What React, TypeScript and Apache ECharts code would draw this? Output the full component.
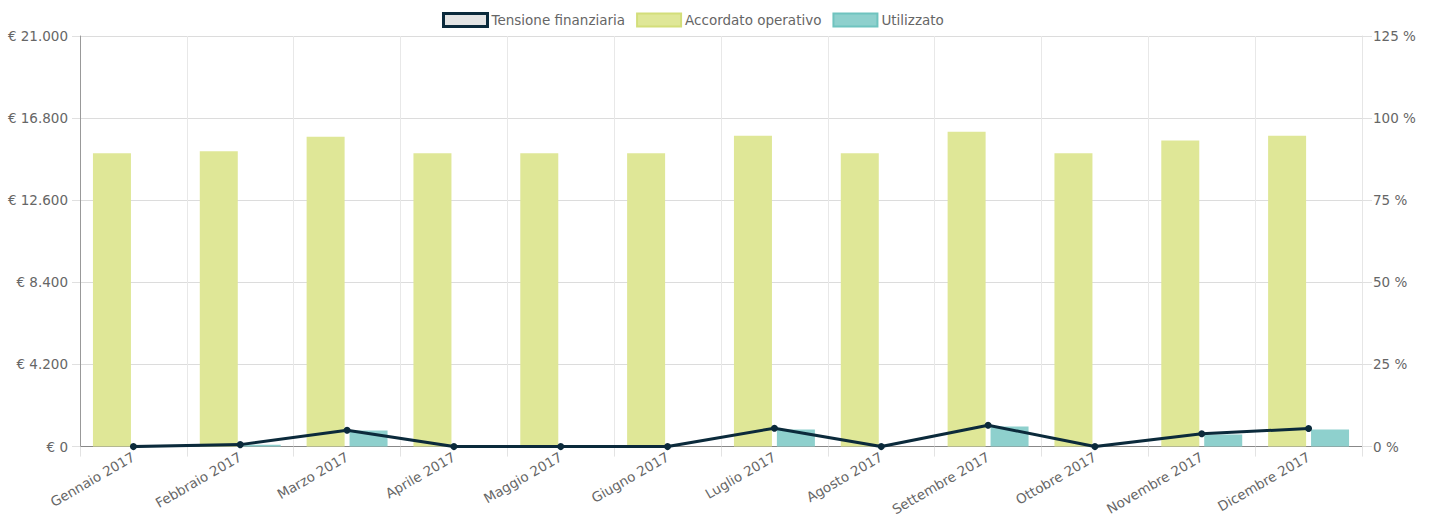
import React, { useEffect, useRef } from "react";
import * as echarts from "echarts";

const categories = [
  "Gennaio 2017", "Febbraio 2017", "Marzo 2017", "Aprile 2017", "Maggio 2017", "Giugno 2017",
  "Luglio 2017", "Agosto 2017", "Settembre 2017", "Ottobre 2017", "Novembre 2017", "Dicembre 2017",
];
const accordato = [15000, 15100, 15850, 15000, 15000, 15000, 15900, 15000, 16100, 15000, 15650, 15900];
const utilizzato = [0, 100, 820, 0, 0, 0, 880, 0, 1030, 0, 620, 880];
const tensione = [0, 0.6, 5.0, 0, 0, 0, 5.6, 0, 6.5, 0, 3.9, 5.5];

const fmtEuro = (v: number) => "€ " + Math.round(v).toString().replace(/\B(?=(\d{3})+(?!\d))/g, ".");

export default function App() {
  const ref = useRef<HTMLDivElement>(null);
  useEffect(() => {
    const chart = echarts.init(ref.current!, null, { renderer: "svg" });
    const font = "DejaVu Sans";
    chart.setOption({
      animation: false,
      textStyle: { fontFamily: font },
      legend: {
        top: 7,
        left: 437,
        itemWidth: 44,
        itemHeight: 13,
        itemGap: 11,
        textStyle: { color: "#666", fontSize: 13.5, fontFamily: font, padding: [0, 0, 0, -1] },
        data: [
          { name: "Tensione finanziaria", icon: "rect", itemStyle: { color: "#e4e4e4", borderColor: "#0b2a3b", borderWidth: 3 } },
          { name: "Accordato operativo", icon: "rect", itemStyle: { color: "#dfe797", borderColor: "#d3de7a", borderWidth: 2 } },
          { name: "Utilizzato", icon: "rect", itemStyle: { color: "#8ed0cd", borderColor: "#6fc3bf", borderWidth: 2 } },
        ],
      },
      grid: { left: 80, right: 72, top: 36, bottom: 71 },
      xAxis: {
        type: "category",
        data: categories,
        boundaryGap: true,
        axisLine: { lineStyle: { color: "#888" } },
        axisTick: { show: true, length: 10, lineStyle: { color: "#e3e3e3" } },
        splitLine: { show: true, lineStyle: { color: "#e8e8e8" } },
        axisLabel: { rotate: 30, color: "#666", fontSize: 13.5, margin: 9, fontFamily: font, interval: 0 },
      },
      yAxis: [
        {
          type: "value",
          min: 0,
          max: 21000,
          interval: 4200,
          axisLine: { show: true, lineStyle: { color: "#999" } },
          axisTick: { show: true, length: 8, lineStyle: { color: "#e0e0e0" } },
          splitLine: { lineStyle: { color: "#dcdcdc" } },
          axisLabel: { formatter: fmtEuro, color: "#666", fontSize: 13.5, margin: 12, fontFamily: font },
        },
        {
          type: "value",
          min: 0,
          max: 125,
          interval: 25,
          position: "right",
          axisLine: { show: true, lineStyle: { color: "#e6e6e6" } },
          axisTick: { show: true, length: 10, lineStyle: { color: "#e0e0e0" } },
          splitLine: { show: false },
          axisLabel: { formatter: (v: number) => v + " %", color: "#666", fontSize: 13.5, margin: 11, fontFamily: font },
        },
      ],
      series: [
        {
          name: "Tensione finanziaria",
          type: "line",
          yAxisIndex: 1,
          data: tensione,
          z: 5,
          symbol: "circle",
          symbolSize: 7,
          lineStyle: { color: "#0b2a3b", width: 3 },
          itemStyle: { color: "#0b2a3b" },
        },
        {
          name: "Accordato operativo",
          type: "bar",
          data: accordato,
          barWidth: 38,
          barGap: "13%",
          itemStyle: { color: "#dfe797" },
        },
        {
          name: "Utilizzato",
          type: "bar",
          data: utilizzato,
          barWidth: 38,
          barGap: "13%",
          itemStyle: { color: "#8ed0cd" },
        },
      ],
    });
    return () => chart.dispose();
  }, []);
  return <div ref={ref} style={{ position: "absolute", left: 0, top: 0, width: 1434, height: 518 }} />;
}
